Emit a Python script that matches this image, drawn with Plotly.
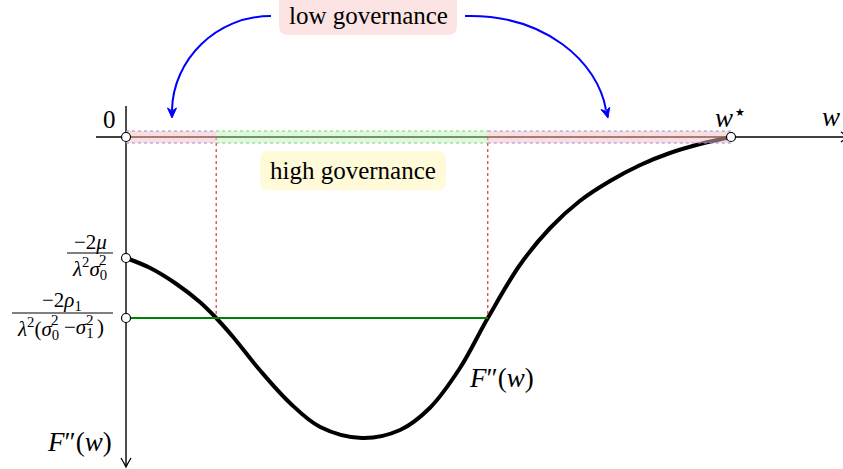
import plotly.graph_objects as go

# ---- data: F''(w) sampled on [0, w*] ----
w_vals = [0.0, 0.040, 0.081, 0.122, 0.149, 0.177, 0.221, 0.271, 0.321, 0.390,
          0.453, 0.502, 0.552, 0.598, 0.651, 0.701, 0.750, 0.800, 0.850, 0.899, 0.949, 1.0]
f_vals = [-1.21, -1.31, -1.46, -1.65, -1.81, -2.00, -2.33, -2.66, -2.90, -3.01,
          -2.93, -2.71, -2.31, -1.81, -1.28, -0.91, -0.64, -0.44, -0.28, -0.16, -0.07, 0.0]

w_star = 1.0          # w*
level_mu = -1.21      # -2mu / (lambda^2 sigma0^2)
level_rho = -1.81     # -2rho1 / (lambda^2 (sigma0^2 - sigma1^2))
w_low = 0.149         # first crossing of F'' with the rho level
w_high = 0.598        # second crossing

# ---- canvas ----
W, H = 843, 469
X_RANGE = [-0.2083, 1.1851]
Y_RANGE = [-3.32, 1.37]

SERIF = "Liberation Serif, Times New Roman, serif"
BLUE = "#0000ff"
GREEN = "#008000"


def px(x):
    return x / W


def py(y):
    return 1 - y / H


def pt(x, y):
    return f"{px(x):.5f},{py(y):.5f}"


def rounded_rect(x0, y0, x1, y1, r):
    return (f"M {pt(x0 + r, y0)} L {pt(x1 - r, y0)} Q {pt(x1, y0)} {pt(x1, y0 + r)} "
            f"L {pt(x1, y1 - r)} Q {pt(x1, y1)} {pt(x1 - r, y1)} "
            f"L {pt(x0 + r, y1)} Q {pt(x0, y1)} {pt(x0, y1 - r)} "
            f"L {pt(x0, y0 + r)} Q {pt(x0, y0)} {pt(x0 + r, y0)} Z")


def stealth(tip, frm, length=10, half=4.5, notch=3):
    dx, dy = tip[0] - frm[0], tip[1] - frm[1]
    n = (dx * dx + dy * dy) ** 0.5
    ux, uy = dx / n, dy / n
    nx, ny = -uy, ux
    bx, by = tip[0] - ux * length, tip[1] - uy * length
    p1 = (bx + nx * half, by + ny * half)
    p2 = (tip[0] - ux * (length - notch), tip[1] - uy * (length - notch))
    p3 = (bx - nx * half, by - ny * half)
    return f"M {pt(*tip)} L {pt(*p1)} L {pt(*p2)} L {pt(*p3)} Z"


fig = go.Figure()

# F''(w) curve
fig.add_trace(go.Scatter(x=w_vals, y=f_vals, mode="lines", line_shape="spline",
                         line=dict(color="black", width=4), hoverinfo="skip"))
# rho level up to the second crossing
fig.add_trace(go.Scatter(x=[0, w_high], y=[level_rho, level_rho], mode="lines",
                         line=dict(color=GREEN, width=2), hoverinfo="skip"))
# dotted drops from the axis to the crossings
for wc in (w_low, w_high):
    fig.add_trace(go.Scatter(x=[wc, wc], y=[0, level_rho], mode="lines",
                             line=dict(color="#d01010", width=1, dash="dot"),
                             hoverinfo="skip"))

shapes = []
# axes
shapes.append(dict(type="line", xref="paper", yref="y", x0=px(96), x1=1.0, y0=0, y1=0,
                   line=dict(color="black", width=1.4), layer="below"))
shapes.append(dict(type="line", xref="x", yref="paper", x0=0, x1=0, y0=py(106), y1=py(466),
                   line=dict(color="black", width=1.4), layer="below"))
# axis arrow tips
shapes.append(dict(type="path", xref="paper", yref="paper",
                   path=f"M {pt(121, 458)} Q {pt(124, 463)} {pt(126, 467)} Q {pt(128, 463)} {pt(131, 458)}",
                   line=dict(color="black", width=1.3)))
shapes.append(dict(type="path", xref="paper", yref="paper",
                   path=f"M {pt(841, 132)} Q {pt(845, 135)} {pt(849, 137)} Q {pt(845, 139)} {pt(841, 142)}",
                   line=dict(color="black", width=1.3)))

# governance bands along the w-axis
band = 0.06
for a, b, fill, edge in [(0, w_low, "rgba(250,190,190,0.5)", "#8c8ce6"),
                         (w_low, w_high, "rgba(185,242,175,0.45)", "#78d078"),
                         (w_high, w_star, "rgba(250,190,190,0.5)", "#8c8ce6")]:
    shapes.append(dict(type="rect", xref="x", yref="y", x0=a, x1=b, y0=-band, y1=band,
                       fillcolor=fill, line=dict(width=0), layer="above"))
    for yy in (-band, band):
        shapes.append(dict(type="line", xref="x", yref="y", x0=a, x1=b, y0=yy, y1=yy,
                           line=dict(color=edge, width=1, dash="dot"), layer="above"))

# open markers
for cx, cy in [(0, 0), (0, level_mu), (0, level_rho), (w_star, 0)]:
    shapes.append(dict(type="circle", xref="x", yref="y", xsizemode="pixel", ysizemode="pixel",
                       xanchor=cx, yanchor=cy, x0=-4.5, x1=4.5, y0=-4.5, y1=4.5,
                       fillcolor="white", line=dict(color="black", width=1.2), layer="above"))

# label boxes
shapes.append(dict(type="path", xref="paper", yref="paper", path=rounded_rect(279, -8, 457, 35, 9),
                   fillcolor="#fde4e4", line=dict(width=0)))
shapes.append(dict(type="path", xref="paper", yref="paper", path=rounded_rect(260, 151, 446, 190, 9),
                   fillcolor="#fffad8", line=dict(width=0)))

# curved blue arrows
shapes.append(dict(type="path", xref="paper", yref="paper",
                   path=f"M {pt(271, 16)} C {pt(216, 16)} {pt(173, 60)} {pt(172, 110)}",
                   line=dict(color=BLUE, width=2)))
shapes.append(dict(type="path", xref="paper", yref="paper", path=stealth((172, 118), (172, 100)),
                   fillcolor=BLUE, line=dict(color=BLUE, width=1)))
shapes.append(dict(type="path", xref="paper", yref="paper",
                   path=f"M {pt(465, 16)} C {pt(545, 14)} {pt(598, 62)} {pt(606, 110)}",
                   line=dict(color=BLUE, width=2)))
shapes.append(dict(type="path", xref="paper", yref="paper", path=stealth((608, 118), (603, 100)),
                   fillcolor=BLUE, line=dict(color=BLUE, width=1)))

# fraction bars
shapes.append(dict(type="line", xref="paper", yref="paper", x0=px(67), x1=px(113), y0=py(253), y1=py(253),
                   line=dict(color="black", width=1)))
shapes.append(dict(type="line", xref="paper", yref="paper", x0=px(12), x1=px(113), y0=py(313), y1=py(313),
                   line=dict(color="black", width=1)))

annotations = []


def label(text, x, y, size=25, xanchor="center"):
    annotations.append(dict(text=text, xref="paper", yref="paper", x=px(x), y=py(y),
                            xanchor=xanchor, yanchor="middle", showarrow=False,
                            font=dict(family=SERIF, size=size, color="black")))


label("low governance", 368, 15)
label("high governance", 353, 170)
label("0", 109, 119)
label("<i>w</i>", 724, 118, size=27)
label("★", 740, 112, size=11)
label("<i>w</i>", 831, 117, size=27)
label("<i>F</i>″(<i>w</i>)", 79, 442, size=27)
label("<i>F</i>″(<i>w</i>)", 501, 378, size=27)

# -2mu / (lambda^2 sigma0^2)
label("−2<i>μ</i>", 90, 242, size=21)
label("<i>λ</i><sup>2</sup><i>σ</i><sub>0</sub>", 109, 268, size=21, xanchor="right")
label("2", 109, 260, size=15, xanchor="right")

# -2rho1 / (lambda^2 (sigma0^2 - sigma1^2))
label("−2<i>ρ</i><sub>1</sub>", 62, 301, size=21)
label("<i>λ</i><sup>2</sup>(<i>σ</i><sub>0</sub>", 61, 328, size=21, xanchor="right")
label("2", 61, 320, size=15, xanchor="right")
label("−<i>σ</i><sub>1</sub>", 96, 328, size=21, xanchor="right")
label("2", 96, 320, size=15, xanchor="right")
label(")", 95, 327, size=21, xanchor="left")

fig.update_layout(
    width=W, height=H, margin=dict(l=0, r=0, t=0, b=0),
    paper_bgcolor="white", plot_bgcolor="white", showlegend=False,
    xaxis=dict(range=X_RANGE, visible=False, fixedrange=True),
    yaxis=dict(range=Y_RANGE, visible=False, fixedrange=True),
    shapes=shapes, annotations=annotations,
)

fig.write_html("out.html")
